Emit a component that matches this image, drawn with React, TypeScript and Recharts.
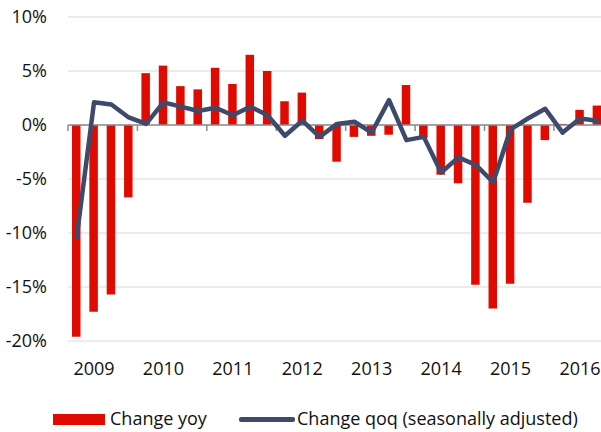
import React from 'react';
import { ComposedChart, Bar, Line, XAxis, YAxis, CartesianGrid, ReferenceLine } from 'recharts';

const quarters = [
  '2008Q4',
  '2009Q1', '2009Q2', '2009Q3', '2009Q4',
  '2010Q1', '2010Q2', '2010Q3', '2010Q4',
  '2011Q1', '2011Q2', '2011Q3', '2011Q4',
  '2012Q1', '2012Q2', '2012Q3', '2012Q4',
  '2013Q1', '2013Q2', '2013Q3', '2013Q4',
  '2014Q1', '2014Q2', '2014Q3', '2014Q4',
  '2015Q1', '2015Q2', '2015Q3', '2015Q4',
  '2016Q1', '2016Q2',
];

const changeYoy = [
  -19.6, -17.3, -15.7, -6.7, 4.8, 5.5, 3.6, 3.3, 5.3, 3.8, 6.5, 5.0, 2.2, 3.0, -1.3, -3.4,
  -1.1, -1.0, -0.9, 3.7, -1.2, -4.6, -5.4, -14.8, -17.0, -14.7, -7.2, -1.4, 0.1, 1.4, 1.8,
];

const changeQoq = [
  -10.4, 2.1, 1.9, 0.7, 0.1, 2.1, 1.7, 1.3, 1.6, 0.9, 1.7, 0.9, -1.0, 0.4, -1.1, 0.1,
  0.3, -0.7, 2.3, -1.4, -1.1, -4.4, -3.0, -3.7, -5.3, -0.4, 0.6, 1.5, -0.7, 0.6, 0.4,
];

const yTicks = [-20, -15, -10, -5, 0, 5, 10];

const RED = '#E00B00';
const NAVY = '#3E4A6B';
const TEXT = '#111';
const FONT = '"Open Sans", sans-serif';

const data = quarters.map((q, i) => ({ idx: i, q, yoy: changeYoy[i], qoq: changeQoq[i] }));

// labels sit on the first quarter of each year
const yearTicks = data.filter((d) => d.q.endsWith('Q1')).map((d) => d.idx);
// tick marks on the zero line, every 4 categories from the left edge
const markPositions = data.filter((d) => d.idx % 4 === 0).map((d) => d.idx - 0.5);
const TICK_LEN = 0.55;

export default function App() {
  return (
    <div style={{ position: 'absolute', left: 0, top: 0, width: 601, height: 432, overflow: 'hidden', background: '#fff' }}>
      <ComposedChart
        width={610}
        height={432}
        data={data}
        margin={{ top: 17, right: 4, bottom: 51, left: 0 }}
      >
        <CartesianGrid vertical={false} stroke="#D9D9D9" strokeWidth={1} />
        <XAxis
          dataKey="idx"
          type="number"
          domain={[-0.5, quarters.length - 0.5]}
          ticks={yearTicks}
          tickFormatter={(v: number) => quarters[v].slice(0, 4)}
          axisLine={false}
          tickLine={false}
          tickSize={0}
          tickMargin={21}
          height={40}
          interval={0}
          tick={{ fill: TEXT, fontSize: 18, fontFamily: FONT }}
        />
        <YAxis
          domain={[-20, 10]}
          ticks={yTicks}
          tickFormatter={(v: number) => `${v}%`}
          axisLine={false}
          tickLine={false}
          tickSize={0}
          tickMargin={21}
          width={68}
          interval={0}
          tick={{ fill: TEXT, fontSize: 18, fontFamily: FONT }}
        />
        <Bar dataKey="yoy" fill={RED} barSize={8.5} isAnimationActive={false} />
        <ReferenceLine y={0} stroke="#8C8C8C" strokeWidth={1.5} />
        {markPositions.map((x) => (
          <ReferenceLine
            key={x}
            segment={[{ x, y: 0 }, { x, y: -TICK_LEN }]}
            stroke="#8C8C8C"
            strokeWidth={1.5}
          />
        ))}
        <Line
          dataKey="qoq"
          stroke={NAVY}
          strokeWidth={4.5}
          dot={false}
          strokeLinejoin="round"
          strokeLinecap="round"
          isAnimationActive={false}
        />
      </ComposedChart>
      <div style={{ position: 'absolute', left: 53, top: 414, width: 52, height: 11, background: RED }} />
      <div style={{ position: 'absolute', left: 110, top: 409, fontFamily: FONT, fontSize: 18, lineHeight: '18px', color: TEXT, whiteSpace: 'nowrap' }}>
        Change yoy
      </div>
      <div style={{ position: 'absolute', left: 239, top: 417, width: 56, height: 4.5, borderRadius: 2, background: NAVY }} />
      <div style={{ position: 'absolute', left: 297, top: 409, fontFamily: FONT, fontSize: 18, lineHeight: '18px', color: TEXT, whiteSpace: 'nowrap' }}>
        Change qoq (seasonally adjusted)
      </div>
    </div>
  );
}
